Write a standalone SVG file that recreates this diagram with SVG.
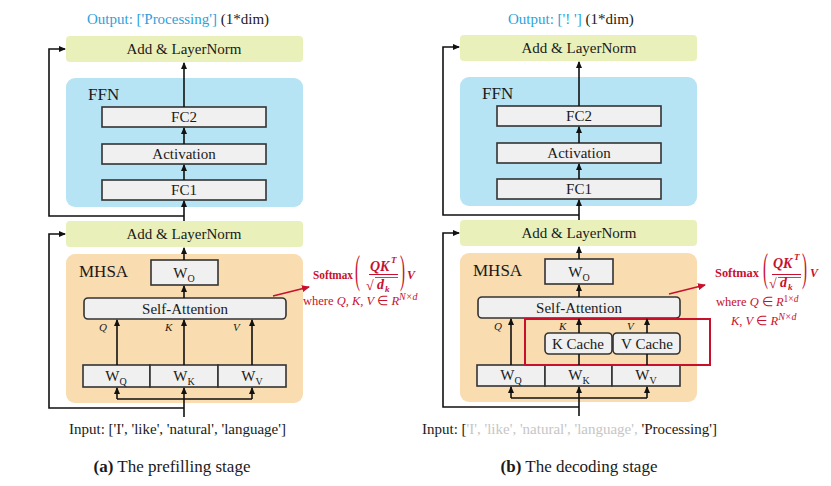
<svg xmlns="http://www.w3.org/2000/svg" width="831" height="486" viewBox="0 0 831 486">
<style>
text{font-family:"Liberation Serif","Times New Roman",serif;fill:#1a1a1a}
.lbl{font-size:15px;text-anchor:middle}
.hdr{font-size:17px}
.ln{fill:#e9f0ba}
.ffn{fill:#b6e4f4}
.mhsa{fill:#f9dcb0}
.blk{fill:#f0f0f0;stroke:#333;stroke-width:1.6}
.sub{font-size:10px}
.qkv{font-size:11px;font-style:italic}
.con{fill:none;stroke:#111;stroke-width:1.6}
.red{fill:#c8102e}
.blue{fill:#2ba2dc}
.gray{fill:#c6c6c6}
.cap{font-size:17px;text-anchor:middle}
.sup{font-size:10px;font-style:italic}
</style>
<defs>
<marker id="ah" markerWidth="7" markerHeight="6" refX="6" refY="3" orient="auto" markerUnits="userSpaceOnUse"><path d="M0,0 L7,3 L0,6 z" fill="#111"/></marker>
<marker id="rah" markerWidth="8" markerHeight="7" refX="7" refY="3.5" orient="auto" markerUnits="userSpaceOnUse"><path d="M0,0 L8,3.5 L0,7 z" fill="#c8102e"/></marker>
</defs>

<!-- ===== Panel (a) ===== -->
<g id="a-output"><text x="87" y="24" style="font-size:15px"><tspan class="blue">Output: ['Processing']</tspan> (1*dim)</text></g>
<g id="a-ffn"><rect class="ffn" x="66" y="78" width="237" height="129" rx="9"/><text class="hdr" x="88" y="100">FFN</text></g>
<g id="a-mhsa"><rect class="mhsa" x="66" y="254" width="237" height="149" rx="9"/><text class="hdr" x="79" y="277">MHSA</text></g>
<g id="a-ln2"><rect class="ln" x="66" y="36" width="237" height="26" rx="4"/><text class="lbl" x="184" y="54">Add &amp; LayerNorm</text></g>
<g id="a-ln1"><rect class="ln" x="66" y="221" width="237" height="26" rx="4"/><text class="lbl" x="184" y="239">Add &amp; LayerNorm</text></g>
<g id="a-fc2"><rect class="blk" x="102" y="107" width="164" height="20"/><text class="lbl" x="184" y="122">FC2</text></g>
<g id="a-act"><rect class="blk" x="102" y="144" width="164" height="20"/><text class="lbl" x="184" y="159">Activation</text></g>
<g id="a-fc1"><rect class="blk" x="102" y="180" width="164" height="20"/><text class="lbl" x="184" y="195">FC1</text></g>
<g id="a-wo"><rect class="blk" x="151" y="260" width="67" height="25"/><text class="lbl" x="184" y="278">W<tspan class="sub" dy="4">O</tspan></text></g>
<g id="a-sa"><rect class="blk" x="84" y="298" width="202" height="21" rx="4"/><text class="lbl" x="185" y="314">Self-Attention</text></g>
<g id="a-wq"><rect class="blk" x="83" y="365" width="67" height="22"/><text class="lbl" x="116" y="381">W<tspan class="sub" dy="4">Q</tspan></text></g>
<g id="a-wk"><rect class="blk" x="150" y="365" width="68" height="22"/><text class="lbl" x="184" y="381">W<tspan class="sub" dy="4">K</tspan></text></g>
<g id="a-wv"><rect class="blk" x="218" y="365" width="68" height="22"/><text class="lbl" x="252" y="381">W<tspan class="sub" dy="4">V</tspan></text></g>
<g id="a-qkv-labels"><text class="qkv" x="99" y="331">Q</text><text class="qkv" x="165" y="331">K</text><text class="qkv" x="233" y="331">V</text></g>
<g id="a-input"><text x="69" y="434" style="font-size:15px">Input: ['I', 'like', 'natural', 'language']</text></g>
<g id="a-formula">
<text x="313" y="279" style="font-size:12px;font-weight:bold" class="red" textLength="40" lengthAdjust="spacingAndGlyphs">Softmax</text>
<text transform="translate(355,283) scale(1,2.7)" style="font-size:15px" class="red">(</text>
<text x="370" y="271" style="font-size:14px;font-weight:bold;font-style:italic" class="red">QK</text>
<text x="391" y="263" style="font-size:9px;font-weight:bold;font-style:italic" class="red">T</text>
<line x1="369" y1="274.5" x2="398" y2="274.5" stroke="#c8102e" stroke-width="1"/>
<text x="366" y="290" style="font-size:14px" class="red">√</text>
<line x1="375" y1="277.5" x2="398" y2="277.5" stroke="#c8102e" stroke-width="0.8"/>
<text x="377" y="289" style="font-size:14px;font-weight:bold;font-style:italic" class="red">d</text>
<text x="385" y="292" style="font-size:9px;font-weight:bold;font-style:italic" class="red">k</text>
<text transform="translate(400,283) scale(1,2.7)" style="font-size:15px" class="red">)</text>
<text x="407" y="279" style="font-size:12px;font-weight:bold;font-style:italic" class="red">V</text>
<text x="303" y="305" style="font-size:12.5px" class="red">where <tspan style="font-style:italic">Q, K, V</tspan> ∈ <tspan style="font-style:italic">R</tspan><tspan class="sup" dy="-5">N×d</tspan></text>
</g>
<g id="a-caption"><text class="cap" x="172" y="472"><tspan style="font-weight:bold">(a)</tspan> The prefilling stage</text></g>

<!-- ===== Panel (b) ===== -->
<g id="b-output"><text x="508" y="24" style="font-size:15px"><tspan class="blue">Output: ['! ']</tspan> (1*dim)</text></g>
<g id="b-ffn"><rect class="ffn" x="460" y="77" width="237" height="129" rx="9"/><text class="hdr" x="482" y="99">FFN</text></g>
<g id="b-mhsa"><rect class="mhsa" x="460" y="253" width="237" height="149" rx="9"/><text class="hdr" x="473" y="276">MHSA</text></g>
<g id="b-ln2"><rect class="ln" x="460" y="35" width="237" height="26" rx="4"/><text class="lbl" x="579" y="53">Add &amp; LayerNorm</text></g>
<g id="b-ln1"><rect class="ln" x="460" y="220" width="237" height="26" rx="4"/><text class="lbl" x="579" y="238">Add &amp; LayerNorm</text></g>
<g id="b-fc2"><rect class="blk" x="497" y="106" width="164" height="20"/><text class="lbl" x="579" y="121">FC2</text></g>
<g id="b-act"><rect class="blk" x="497" y="143" width="164" height="20"/><text class="lbl" x="579" y="158">Activation</text></g>
<g id="b-fc1"><rect class="blk" x="497" y="179" width="164" height="20"/><text class="lbl" x="579" y="194">FC1</text></g>
<g id="b-wo"><rect class="blk" x="545" y="259" width="68" height="25"/><text class="lbl" x="579" y="277">W<tspan class="sub" dy="4">O</tspan></text></g>
<g id="b-sa"><rect class="blk" x="478" y="297" width="202" height="21" rx="4"/><text class="lbl" x="579" y="313">Self-Attention</text></g>
<g id="b-kc"><rect class="blk" x="545" y="333" width="67" height="21" rx="4"/><text class="lbl" x="578" y="349">K Cache</text></g>
<g id="b-vc"><rect class="blk" x="613" y="333" width="67" height="21" rx="4"/><text class="lbl" x="647" y="349">V Cache</text></g>
<g id="b-wq"><rect class="blk" x="477" y="365" width="68" height="21"/><text class="lbl" x="511" y="380">W<tspan class="sub" dy="4">Q</tspan></text></g>
<g id="b-wk"><rect class="blk" x="545" y="365" width="67" height="21"/><text class="lbl" x="579" y="380">W<tspan class="sub" dy="4">K</tspan></text></g>
<g id="b-wv"><rect class="blk" x="612" y="365" width="68" height="21"/><text class="lbl" x="646" y="380">W<tspan class="sub" dy="4">V</tspan></text></g>
<g id="b-cachebox"><rect x="525" y="319" width="185" height="46" fill="none" stroke="#c8102e" stroke-width="2"/></g>
<g id="b-qkv-labels"><text class="qkv" x="494" y="330">Q</text><text class="qkv" x="559" y="330">K</text><text class="qkv" x="627" y="330">V</text></g>
<g id="b-input"><text x="422" y="434" style="font-size:15px">Input: [<tspan class="gray">'I', 'like', 'natural', 'language', </tspan>'Processing']</text></g>
<g id="b-formula">
<text x="715" y="277" style="font-size:12px;font-weight:bold" class="red" textLength="44" lengthAdjust="spacingAndGlyphs">Softmax</text>
<text transform="translate(763,281) scale(1,2.7)" style="font-size:15px" class="red">(</text>
<text x="773" y="268" style="font-size:14px;font-weight:bold;font-style:italic" class="red">QK</text>
<text x="794" y="260" style="font-size:9px;font-weight:bold;font-style:italic" class="red">T</text>
<line x1="772" y1="274.5" x2="801" y2="274.5" stroke="#c8102e" stroke-width="1"/>
<text x="769" y="288" style="font-size:14px" class="red">√</text>
<line x1="778" y1="277.5" x2="801" y2="277.5" stroke="#c8102e" stroke-width="0.8"/>
<text x="780" y="287" style="font-size:14px;font-weight:bold;font-style:italic" class="red">d</text>
<text x="788" y="290" style="font-size:9px;font-weight:bold;font-style:italic" class="red">k</text>
<text transform="translate(802,281) scale(1,2.7)" style="font-size:15px" class="red">)</text>
<text x="810" y="277" style="font-size:12px;font-weight:bold;font-style:italic" class="red">V</text>
<text x="716" y="306" style="font-size:12.5px" class="red">where <tspan style="font-style:italic">Q</tspan> ∈ <tspan style="font-style:italic">R</tspan><tspan style="font-size:9.5px" dy="-4">1×<tspan style="font-style:italic">d</tspan></tspan></text>
<text x="731" y="325" style="font-size:12.5px" class="red"><tspan style="font-style:italic">K, V</tspan> ∈ <tspan style="font-style:italic">R</tspan><tspan class="sup" dy="-5">N×d</tspan></text>
</g>
<g id="b-caption"><text class="cap" x="579" y="472"><tspan style="font-weight:bold">(b)</tspan> The decoding stage</text></g>

<!-- ===== Connectors ===== -->
<g id="connectors">
<!-- panel a -->
<path class="con" d="M184,107 V63" marker-end="url(#ah)"/>
<path class="con" d="M184,144 V128" marker-end="url(#ah)"/>
<path class="con" d="M184,180 V165" marker-end="url(#ah)"/>
<path class="con" d="M184,221 V201" marker-end="url(#ah)"/>
<path class="con" d="M184,216 H49 V49 H65" marker-end="url(#ah)"/>
<path class="con" d="M184,260 V248" marker-end="url(#ah)"/>
<path class="con" d="M184,298 V286" marker-end="url(#ah)"/>
<path class="con" d="M117,365 V320" marker-end="url(#ah)"/>
<path class="con" d="M184,365 V320" marker-end="url(#ah)"/>
<path class="con" d="M252,365 V320" marker-end="url(#ah)"/>
<path class="con" d="M184,417 V388" marker-end="url(#ah)"/>
<path class="con" d="M117,399 H252"/>
<path class="con" d="M117,399 V388" marker-end="url(#ah)"/>
<path class="con" d="M252,399 V388" marker-end="url(#ah)"/>
<path class="con" d="M184,408 H49 V234 H65" marker-end="url(#ah)"/>
<path d="M273,296 L309,287" fill="none" stroke="#c8102e" stroke-width="1.8" marker-end="url(#rah)"/>
<!-- panel b -->
<path class="con" d="M579,106 V62" marker-end="url(#ah)"/>
<path class="con" d="M579,143 V127" marker-end="url(#ah)"/>
<path class="con" d="M579,179 V164" marker-end="url(#ah)"/>
<path class="con" d="M579,220 V200" marker-end="url(#ah)"/>
<path class="con" d="M579,215 H443 V47 H459" marker-end="url(#ah)"/>
<path class="con" d="M579,259 V247" marker-end="url(#ah)"/>
<path class="con" d="M579,297 V285" marker-end="url(#ah)"/>
<path class="con" d="M511,365 V319" marker-end="url(#ah)"/>
<path class="con" d="M579,365 V354"/>
<path class="con" d="M647,365 V354"/>
<path class="con" d="M579,333 V319" marker-end="url(#ah)"/>
<path class="con" d="M647,333 V319" marker-end="url(#ah)"/>
<path class="con" d="M579,416 V387" marker-end="url(#ah)"/>
<path class="con" d="M511,398 H647"/>
<path class="con" d="M511,398 V387" marker-end="url(#ah)"/>
<path class="con" d="M647,398 V387" marker-end="url(#ah)"/>
<path class="con" d="M579,407 H443 V233 H459" marker-end="url(#ah)"/>
<path d="M669,294 L705,285" fill="none" stroke="#c8102e" stroke-width="1.8" marker-end="url(#rah)"/>
</g>
</svg>
